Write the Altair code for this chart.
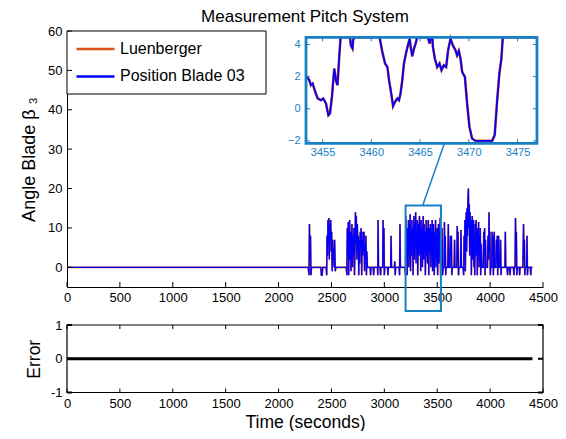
import altair as alt
import pandas as pd

FONT = "Liberation Sans"
ORANGE = "#D95319"
BLUE = "#0000FF"
ACCENT = "#1880C4"

# ---------------- data ----------------
main_time = [
    0, 2280, 2288, 2292, 2297, 2302, 2306, 2312, 2400, 2405, 2412, 2418, 2450,
    2455, 2458, 2463, 2467, 2471, 2476, 2480, 2484, 2489, 2493, 2498, 2502, 2507,
    2511, 2516, 2520, 2526, 2530, 2536, 2542, 2640, 2646, 2650, 2655, 2659, 2663,
    2667, 2672, 2676, 2681, 2685, 2690, 2694, 2699, 2704, 2708, 2713, 2718, 2722,
    2727, 2731, 2735, 2740, 2745, 2749, 2754, 2758, 2763, 2767, 2772, 2776, 2781,
    2786, 2790, 2795, 2799, 2804, 2808, 2813, 2817, 2822, 2826, 2831, 2835, 2840,
    2866, 2870, 2874, 2895, 2899, 2903, 2935, 2938, 2941, 2945, 2960, 2964, 2968,
    2985, 2988, 2992, 2996, 3000, 3004, 3030, 3034, 3038, 3060, 3064, 3068, 3095,
    3099, 3103, 3107, 3140, 3144, 3148, 3152, 3195, 3200, 3204, 3208, 3212, 3216,
    3220, 3224, 3228, 3232, 3236, 3240, 3244, 3248, 3252, 3256, 3260, 3264, 3268,
    3272, 3276, 3280, 3284, 3288, 3292, 3296, 3300, 3304, 3308, 3312, 3316, 3320,
    3324, 3328, 3332, 3336, 3340, 3344, 3348, 3352, 3356, 3360, 3364, 3368, 3372,
    3376, 3380, 3384, 3388, 3392, 3396, 3400, 3404, 3408, 3412, 3416, 3420, 3424,
    3428, 3432, 3436, 3440, 3444, 3448, 3452, 3456, 3460, 3464, 3468, 3472, 3476,
    3480, 3484, 3488, 3492, 3496, 3500, 3504, 3508, 3512, 3516, 3520, 3524, 3528,
    3532, 3536, 3540, 3545, 3550, 3556, 3565, 3568, 3572, 3576, 3580, 3584, 3600,
    3605, 3610, 3620, 3626, 3630, 3634, 3638, 3642, 3660, 3664, 3668, 3685, 3689,
    3693, 3697, 3701, 3705, 3720, 3725, 3729, 3745, 3750, 3754, 3758, 3762, 3766,
    3770, 3774, 3778, 3782, 3786, 3790, 3795, 3799, 3803, 3807, 3811, 3815, 3819,
    3823, 3827, 3831, 3835, 3839, 3843, 3847, 3851, 3855, 3859, 3863, 3867, 3871,
    3875, 3879, 3883, 3887, 3891, 3895, 3899, 3903, 3907, 3911, 3915, 3920, 3935,
    3940, 3944, 3948, 3952, 3956, 3960, 3975, 3980, 3985, 3990, 3994, 3998, 4002,
    4006, 4015, 4019, 4023, 4027, 4031, 4035, 4039, 4043, 4055, 4060, 4064, 4068,
    4072, 4076, 4080, 4084, 4095, 4099, 4103, 4107, 4140, 4144, 4148, 4160, 4165,
    4170, 4185, 4189, 4193, 4220, 4225, 4229, 4236, 4240, 4244, 4248, 4252, 4256,
    4275, 4279, 4283, 4310, 4316, 4320, 4324, 4328, 4332, 4345, 4349, 4353, 4357,
    4380, 4384, 4388, 4400,
]
blade_values = [
    0, 0, -2, 11, 2, 8, -2, 0, 0, -2, -2, 0, 0,
    -2, 8, 3, 12, 6, 12.5, 2, 11, 7, 12, 4, 9, -1,
    7, 2, 5, 0, 7, -1, 0, 0, -2, 10, 3, 11.5, -2,
    8, 12, 2, 9, -1, 6, 11, 0, 8, 3, 10, -2, 5,
    14, 6, 13, 2, 11, 4, 8, -2, 7, 1, 9, 5, 10,
    -2, 7, 3, 9, 4, 9, -1, 6, 2, 8, -2, 4, 0,
    0, -2, 0, 0, -2, 0, 0, -2, 12, 0, 0, -2, 0,
    0, 12, 3, 10, -2, 0, 0, -2, 0, 0, 8, 0, 0,
    1.5, -2, 0, 0, -2, 11, 0, 0, -2, 13, 2, 9, -2,
    10, 4, 12, 0, 11, 6, 13.5, -1, 9, 3, 12, 5, 10,
    -2, 8, 13, 2, 11, 6, 14, 1, 9, 4, 12, -2, 7,
    11, 3, 13, 5, 9, -1, 12, 6, 10, 0, 8, 13, 2,
    11, 5, 9, -2, 7, 12, 3, 10, 1, 8, 12, -2, 6,
    10, 4, 11, 0, 9, 3, 12, -1, 7, 11, 2, -2, 9,
    4, 12, 0, 8, 2, 10, -2, 6, 11, 1, 9, 3, 12.5,
    -2, 7, 0, 10, -2, 0, 0, 11.5, 2, 8, -2, 0, 0,
    11, 0, 0, 8, 3, 8, -2, 0, 0, 7, 0, 0, 10.5,
    2, 9, -2, 0, 0, 9.5, 0, 0, -2, 8, 3, 12, -1,
    10, 14, 4, 15, 8, 17, 20, 10, 16, 3, 14, 6, 12,
    -2, 9, 13, 2, 8, 12, 0, 7, -2, 11, 3, 12, 5,
    9, -2, 10, 4, 11.5, 0, 8, 2, 10, -2, 6, 0, 0,
    9, 3, 10, -2, 7, 0, 0, 8, 2, 14, 4, 9, -2,
    0, 0, 9, 3, 8, -2, 6, 9, 0, 0, 7, 2, 8,
    -2, 5, 8, 0, 0, 7, -2, 0, 0, 9, 0, 0, -2,
    0, 0, -2, 0, 0, -2, 0, 0, 12.5, 3, 9, -2, 0,
    0, -2, 0, 0, 11, 2, 7, -2, 0, 0, 8, -2, 0,
    0, -2, 0, 0,
]
luenberger_values = list(blade_values)

inset_time = [
    3453.3, 3453.64, 3453.8, 3453.98, 3454.25, 3454.5, 3454.84, 3455.07, 3455.35,
    3455.6, 3455.76, 3455.96, 3456.2, 3456.37, 3456.53, 3456.7, 3456.85, 3457.5,
    3457.82, 3457.9, 3458.07, 3458.14, 3458.25, 3459.5, 3460.85, 3460.97, 3461.13,
    3461.41, 3461.65, 3461.82, 3462.1, 3462.23, 3462.43, 3462.67, 3462.84, 3463.0,
    3463.18, 3463.35, 3463.59, 3463.8, 3463.94, 3464.04, 3464.2, 3464.38, 3464.55,
    3464.7, 3465.3, 3465.78, 3465.84, 3465.98, 3466.12, 3466.26, 3466.32, 3466.52,
    3466.76, 3467.0, 3467.2, 3467.44, 3467.68, 3467.88, 3468.13, 3468.36, 3468.64,
    3468.8, 3468.98, 3469.15, 3469.32, 3469.6, 3469.83, 3470.07, 3470.34, 3470.69,
    3472.4, 3472.66, 3472.9, 3473.14, 3473.35, 3473.48, 3473.6, 3475.0, 3477.0,
]
inset_values = [
    2.05, 1.78, 1.47, 1.57, 1.05, 0.64, 0.53, 0.64, 0.33,
    -0.4, -0.29, 0.74, 2.5, 1.78, 1.47, 3.13, 6.0, 8.0,
    5.0, 3.96, 3.75, 4.27, 6.0, 9.0, 5.0, 4.06, 3.54,
    2.82, 2.6, 1.78, 0.74, 0.16, 0.43, 0.64, 0.53, 0.95,
    1.78, 2.82, 3.54, 4.06, 4.37, 3.85, 3.27, 3.75, 4.06,
    6.0, 7.0, 5.0, 4.37, 4.06, 5.5, 5.0, 3.85, 3.13,
    2.6, 2.82, 2.4, 2.71, 2.6, 3.64, 4.37, 3.96, 3.64,
    3.33, 3.6, 3.13, 2.3, 1.98, 0.33, -1.13, -1.85, -2.0,
    -2.0, -1.64, 0.43, 2.2, 3.13, 4.37, 6.5, 9.0, 8.0,
]

error_time = [0, 1100, 2200, 3300, 4400]
error_values = [0, 0, 0, 0, 0]

series_names = ["Luenberger", "Position Blade 03"]
x_ticks = [0, 500, 1000, 1500, 2000, 2500, 3000, 3500, 4000, 4500]
y_ticks = [0, 10, 20, 30, 40, 50, 60]
main_x_limits = [0, 4500]
main_y_limits = [-5, 60]
inset_x_ticks = [3455, 3460, 3465, 3470, 3475]
inset_y_ticks = [-2, 0, 2, 4]
inset_x_limits = [3453.3, 3477.0]
inset_y_limits = [-2.15, 4.45]
zoom_box_t = [3201, 3535]
zoom_box_v = [-11.1, 15.7]
connector_t = [3363, 3570]
connector_v = [15.7, 31.6]
error_y_ticks = [-1, 0, 1]
error_y_limits = [-1, 1]

# ---------------- layout ----------------
W = 476
H_MAIN = 256
H_ERR = 67.5
IX0, IX1 = 239, 470          # inset frame, plot pixels
IY0, IY1 = 6.3, 112.3
TICK = 5
LEG_W, LEG_H = 199, 63
LABEL_SIZE = 13

# ---------------- main panel ----------------
xs = alt.Scale(domain=main_x_limits, nice=False, zero=False)
ys = alt.Scale(domain=main_y_limits, nice=False, zero=False)
x_axis_main = alt.Axis(values=x_ticks, format="d", tickSize=0, grid=False, domainColor="black",
                       labelFontSize=LABEL_SIZE, labelPadding=4, labelFlush=False,
                       labelOverlap=False, title=None)
y_axis_main = alt.Axis(values=y_ticks, format="d", tickSize=0, grid=False, domainColor="black",
                       labelFontSize=LABEL_SIZE, labelPadding=5, labelOverlap=False,
                       title="Angle Blade β ₃", titleFontSize=18, titleFontWeight="normal",
                       titlePadding=9.5)
color_scale = alt.Scale(domain=series_names, range=[ORANGE, BLUE])

df_luen = pd.DataFrame({"t": main_time, "v": luenberger_values, "series": series_names[0]})
df_blade = pd.DataFrame({"t": main_time, "v": blade_values, "series": series_names[1]})

X = alt.X("t:Q", scale=xs, axis=x_axis_main)
Y = alt.Y("v:Q", scale=ys, axis=y_axis_main)
legend = alt.Legend(title=None)
C = alt.Color("series:N", scale=color_scale, legend=legend)

legend_box = alt.Chart(pd.DataFrame({"k": [0]})).mark_rect(
    fill="white", stroke="black", strokeWidth=1
).encode(x=alt.value(0), x2=alt.value(LEG_W), y=alt.value(0), y2=alt.value(LEG_H))

line_luen = alt.Chart(df_luen).mark_line(strokeWidth=1.7).encode(x=X, y=Y, color=C)
line_blade = alt.Chart(df_blade).mark_line(strokeWidth=1.3).encode(x=X, y=Y, color=C)

xt_main = alt.Chart(pd.DataFrame({"t": x_ticks})).mark_rule(color="black").encode(
    x=X, y=alt.value(H_MAIN), y2=alt.value(H_MAIN - TICK))
yt_main = alt.Chart(pd.DataFrame({"v": y_ticks})).mark_rule(color="black").encode(
    y=Y, x=alt.value(0), x2=alt.value(TICK))

df_box = pd.DataFrame({"t": [zoom_box_t[0]], "t2": [zoom_box_t[1]],
                       "v": [zoom_box_v[0]], "v2": [zoom_box_v[1]]})
zoom_box = alt.Chart(df_box).mark_rect(fillOpacity=0, stroke=ACCENT, strokeWidth=2).encode(
    x=X, x2="t2:Q", y=Y, y2="v2:Q")
df_conn = pd.DataFrame({"t": [connector_t[0]], "t2": [connector_t[1]],
                        "v": [connector_v[0]], "v2": [connector_v[1]]})
connector = alt.Chart(df_conn).mark_rule(color=ACCENT, strokeWidth=1.5).encode(
    x=X, x2="t2:Q", y=Y, y2="v2:Q")

main_layer = alt.layer(legend_box, line_luen, line_blade, xt_main, yt_main, zoom_box, connector)

# ---------------- inset ----------------
xi = alt.Scale(domain=inset_x_limits, range=[IX0, IX1], nice=False, zero=False)
yi = alt.Scale(domain=inset_y_limits, range=[IY1, IY0], nice=False, zero=False, clamp=True)
# placed on the opposite sides (top / right) so they are not stacked with the main axes
x_axis_in = alt.Axis(orient="top", values=inset_x_ticks, format="d", tickSize=0, grid=False,
                     domain=False, labelFontSize=11, labelColor=ACCENT, labelPadding=0,
                     labelBaseline="top", labelFlush=False, labelOverlap=False, title=None,
                     offset=-(IY1 + 3.5))
y_axis_in = alt.Axis(orient="right", values=inset_y_ticks, format="d", tickSize=0, grid=False,
                     domain=False, labelFontSize=11, labelColor=ACCENT, labelPadding=0,
                     labelAlign="right", labelOverlap=False, title=None, offset=(IX0 - 6) - W)
XI = alt.X("t:Q", scale=xi, axis=x_axis_in)
YI = alt.Y("v:Q", scale=yi, axis=y_axis_in)

df_inset = pd.DataFrame({"t": inset_time, "v": inset_values})
df_frame = pd.DataFrame({"t": [inset_x_limits[0]], "t2": [inset_x_limits[1]],
                         "v": [inset_y_limits[0]], "v2": [inset_y_limits[1]]})
inset_bg = alt.Chart(df_frame).mark_rect(fill="white").encode(x=XI, x2="t2:Q", y=YI, y2="v2:Q")
inset_luen = alt.Chart(df_inset).mark_line(color=ORANGE, strokeWidth=2.6).encode(x=XI, y=YI)
inset_blade = alt.Chart(df_inset).mark_line(color=BLUE, strokeWidth=1.8).encode(x=XI, y=YI)
df_ixt = pd.DataFrame({"t": inset_x_ticks})
df_iyt = pd.DataFrame({"v": inset_y_ticks})
ixt_b = alt.Chart(df_ixt).mark_rule(color=ACCENT).encode(x=XI, y=alt.value(IY1), y2=alt.value(IY1 - 4))
ixt_t = alt.Chart(df_ixt).mark_rule(color=ACCENT).encode(x=XI, y=alt.value(IY0), y2=alt.value(IY0 + 4))
iyt_l = alt.Chart(df_iyt).mark_rule(color=ACCENT).encode(y=YI, x=alt.value(IX0), x2=alt.value(IX0 + 4))
iyt_r = alt.Chart(df_iyt).mark_rule(color=ACCENT).encode(y=YI, x=alt.value(IX1), x2=alt.value(IX1 - 4))
inset_frame = alt.Chart(df_frame).mark_rect(fillOpacity=0, stroke=ACCENT, strokeWidth=2.8).encode(
    x=XI, x2="t2:Q", y=YI, y2="v2:Q")

inset_layer = alt.layer(inset_bg, inset_luen, inset_blade, ixt_b, ixt_t, iyt_l, iyt_r, inset_frame)

top = alt.layer(main_layer, inset_layer).resolve_scale(
    x="independent", y="independent"
).properties(
    width=W, height=H_MAIN,
    title=alt.Title("Measurement Pitch System", fontSize=17, fontWeight="normal",
                    font=FONT, color="black", offset=-1),
)

# ---------------- error panel ----------------
xe = alt.Scale(domain=main_x_limits, nice=False, zero=False)
ye = alt.Scale(domain=error_y_limits, nice=False, zero=False)
x_axis_err = alt.Axis(values=x_ticks, format="d", tickSize=0, grid=False, domain=False,
                      labelFontSize=LABEL_SIZE, labelPadding=5, labelFlush=False,
                      labelOverlap=False, title="Time (seconds)", titleFontSize=17.5,
                      titleFontWeight="normal", titlePadding=2.5)
y_axis_err = alt.Axis(values=error_y_ticks, labelExpr="'' + datum.value", tickSize=0,
                      grid=False, domain=False, labelFontSize=LABEL_SIZE, labelPadding=5,
                      labelOverlap=False, labelFlush=False, title="Error", titleFontSize=17.5,
                      titleFontWeight="normal", titlePadding=7)
XE = alt.X("t:Q", scale=xe, axis=x_axis_err)
YE = alt.Y("v:Q", scale=ye, axis=y_axis_err)

df_err = pd.DataFrame({"t": error_time, "v": error_values})
err_line = alt.Chart(df_err).mark_line(color="black", strokeWidth=3).encode(x=XE, y=YE)
df_eframe = pd.DataFrame({"t": [main_x_limits[0]], "t2": [main_x_limits[1]],
                          "v": [error_y_limits[0]], "v2": [error_y_limits[1]]})
err_frame = alt.Chart(df_eframe).mark_rect(fillOpacity=0, stroke="black", strokeWidth=1.2).encode(
    x=XE, x2="t2:Q", y=YE, y2="v2:Q")
df_ext = pd.DataFrame({"t": x_ticks})
df_eyt = pd.DataFrame({"v": error_y_ticks})
ext_b = alt.Chart(df_ext).mark_rule(color="black").encode(x=XE, y=alt.value(H_ERR), y2=alt.value(H_ERR - 4))
ext_t = alt.Chart(df_ext).mark_rule(color="black").encode(x=XE, y=alt.value(0), y2=alt.value(4))
eyt_l = alt.Chart(df_eyt).mark_rule(color="black", strokeWidth=2).encode(y=YE, x=alt.value(0), x2=alt.value(5))
eyt_r = alt.Chart(df_eyt).mark_rule(color="black", strokeWidth=2).encode(y=YE, x=alt.value(W), x2=alt.value(W - 5))

bottom = alt.layer(err_line, err_frame, ext_b, ext_t, eyt_l, eyt_r).properties(width=W, height=H_ERR)

chart = alt.vconcat(top, bottom, spacing=6).properties(
    padding={"left": 12, "top": 0, "right": 0, "bottom": 0}
).configure_view(
    strokeWidth=0
).configure_axis(
    labelFont=FONT, titleFont=FONT, labelColor="black", titleColor="black"
).configure_legend(
    orient="top-left", offset=0, padding=8, labelFont=FONT, labelFontSize=16,
    labelColor="black", symbolType="stroke", symbolSize=1444, symbolStrokeWidth=2.5,
    labelOffset=4, rowPadding=7.4, clipHeight=20,
)

chart.save("out.html", embed_options={"renderer": "svg", "actions": False})
